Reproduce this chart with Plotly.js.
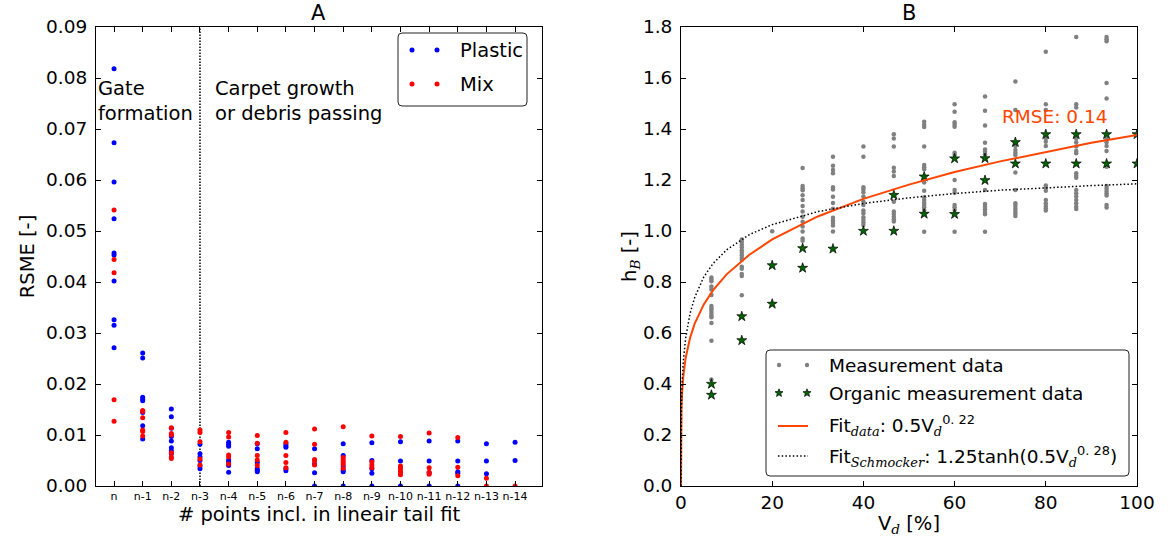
<!DOCTYPE html>
<html>
<head>
<meta charset="utf-8">
<script src="https://cdn.plot.ly/plotly-3.0.1.min.js"></script>
<style>html,body{margin:0;padding:0;background:#fff;}#chart{width:1170px;height:537px;}</style>
</head>
<body>
<div id="chart"></div>
<script>
// ---------- Panel A data ----------
const categories = ['n','n-1','n-2','n-3','n-4','n-5','n-6','n-7','n-8','n-9','n-10','n-11','n-12','n-13','n-14'];
const plasticRSME = [
  [0.0818, 0.0673, 0.0596, 0.0524, 0.0457, 0.0453, 0.0402, 0.0326, 0.0315, 0.0271],
  [0.0261, 0.0251, 0.0174, 0.0170, 0.0167, 0.0144, 0.0118, 0.0092],
  [0.0151, 0.0136, 0.0113, 0.0097, 0.0088, 0.0075, 0.0069, 0.0063],
  [0.0082, 0.0063, 0.0057, 0.0050, 0.0039, 0.0034],
  [0.0086, 0.0082, 0.0078, 0.0051, 0.0047, 0.0040, 0.0027],
  [0.0083, 0.0073, 0.0046, 0.0034, 0.0031, 0.0028],
  [0.0083, 0.0079, 0.0076, 0.0034, 0.0030],
  [0.0073, 0.0043, 0.0026, 0.0],
  [0.0083, 0.0060, 0.0039, 0.0031, 0.0028, 0.0],
  [0.0085, 0.0050, 0.0034, 0.0025, 0.0],
  [0.0087, 0.0049, 0.0],
  [0.0088, 0.0049, 0.0026, 0.0],
  [0.0088, 0.0049, 0.0028, 0.0025, 0.0],
  [0.0083, 0.0049, 0.0024],
  [0.0086, 0.0050]
];
const mixRSME = [
  [0.0541, 0.0444, 0.0418, 0.0169, 0.0127],
  [0.0148, 0.0146, 0.0134, 0.0110, 0.0107, 0.0098],
  [0.0114, 0.0103, 0.0100, 0.0065, 0.0057, 0.0054],
  [0.0110, 0.0105, 0.0087, 0.0053, 0.0041],
  [0.0105, 0.0096, 0.0061, 0.0057, 0.0043],
  [0.0099, 0.0084, 0.0060, 0.0051, 0.0040],
  [0.0105, 0.0086, 0.0060, 0.0046, 0.0036],
  [0.0112, 0.0082, 0.0052, 0.0049, 0.0041],
  [0.0116, 0.0056, 0.0051, 0.0047, 0.0043, 0.0035],
  [0.0098, 0.0047, 0.0041, 0.0036],
  [0.0097, 0.0039, 0.0035, 0.0030, 0.0026, 0.0022],
  [0.0104, 0.0036, 0.0027, 0.0023],
  [0.0095, 0.0037, 0.0020],
  [0.0015, 0.0],
  [0.0]
];
const splitCategory = 'n-3';

// ---------- Panel B data ----------
const vColumns = [6.67, 13.33, 20, 26.67, 33.33, 40, 46.67, 53.33, 60, 66.67, 73.33, 80, 86.67, 93.33, 100];
const measurementHB = [
  [0.818, 0.810, 0.803, 0.782, 0.771, 0.749, 0.706, 0.697, 0.688, 0.678, 0.669, 0.662, 0.639, 0.570, 0.418],
  [0.967, 0.957, 0.946, 0.936, 0.925, 0.915, 0.905, 0.894, 0.886, 0.860, 0.852, 0.831, 0.824, 0.748],
  [0.999],
  [1.247, 1.176, 1.168, 1.160, 1.140, 1.122, 1.098, 1.076, 1.056, 1.036, 1.018, 0.998, 0.971, 0.962],
  [1.291, 1.256, 1.239, 1.226, 1.172, 1.163, 1.134, 1.110, 1.087, 1.052, 1.041, 1.031, 1.022, 0.998],
  [1.331, 1.291, 1.172, 1.163, 1.152, 1.135, 1.115, 1.102, 1.080, 1.070, 1.054, 1.043, 1.033, 1.024],
  [1.379, 1.363, 1.331, 1.248, 1.233, 1.216, 1.115, 1.076, 1.067, 1.056, 1.046, 1.037],
  [1.428, 1.417, 1.408, 1.331, 1.259, 1.250, 1.242, 1.190, 1.158, 1.132, 1.122, 1.111, 1.102, 1.093, 1.082, 0.997],
  [1.497, 1.468, 1.426, 1.418, 1.409, 1.307, 1.298, 1.200, 1.161, 1.150, 1.102, 1.093, 1.082, 0.997],
  [1.527, 1.472, 1.414, 1.346, 1.320, 1.311, 1.301, 1.161, 1.106, 1.095, 1.085, 1.075, 1.066, 0.997],
  [1.586, 1.475, 1.333, 1.318, 1.307, 1.298, 1.229, 1.161, 1.109, 1.099, 1.088, 1.078, 1.069, 1.059],
  [1.703, 1.497, 1.475, 1.363, 1.350, 1.333, 1.178, 1.170, 1.158, 1.122, 1.109, 1.098, 1.089, 1.080],
  [1.761, 1.497, 1.484, 1.363, 1.348, 1.331, 1.314, 1.305, 1.226, 1.217, 1.209, 1.161, 1.148, 1.135, 1.122, 1.109, 1.095, 1.086],
  [1.761, 1.752, 1.744, 1.580, 1.520, 1.360, 1.348, 1.333, 1.314, 1.252, 1.176, 1.167, 1.157, 1.148, 1.139, 1.102, 1.092],
  []
];
const organicHB = [
  [0.400, 0.357], [0.665, 0.571], [0.865, 0.714], [0.932, 0.855], [0.930], [1.000],
  [1.141, 1.000], [1.213, 1.067], [1.284, 1.066], [1.285, 1.199], [1.348, 1.264],
  [1.379, 1.264], [1.379, 1.264], [1.379, 1.264], [1.379, 1.264]
];
// fit curves, tabulated (values of the fits shown in the legend)
const fitV = [0, 0.01, 0.05, 0.1, 0.25, 0.5, 1, 2, 3, 5, 7, 10, 15, 20, 30, 40, 50, 60, 70, 80, 90, 100];
const fitDataHB = [0, 0.182, 0.259, 0.301, 0.369, 0.429, 0.500, 0.582, 0.637, 0.712, 0.767, 0.830, 0.907, 0.967, 1.057, 1.126, 1.182, 1.231, 1.273, 1.311, 1.346, 1.377];
const fitSchmockerHB = [0, 0.171, 0.266, 0.321, 0.409, 0.488, 0.578, 0.678, 0.739, 0.820, 0.872, 0.926, 0.986, 1.025, 1.076, 1.108, 1.130, 1.147, 1.160, 1.170, 1.178, 1.185];
const rmseText = 'RMSE: 0.14';

// ---------- helpers ----------
const W = 1170, H = 537;
const X = px => px / W, Y = py => 1 - py / H;
function flatten(groups, keys) {
  const xs = [], ys = [];
  groups.forEach((g, i) => g.forEach(v => { xs.push(keys[i]); ys.push(v); }));
  return {xs, ys};
}
const catIdx = categories.map((c, i) => i);
const pl = flatten(plasticRSME, catIdx);
const mx = flatten(mixRSME, catIdx);
const ms = flatten(measurementHB, vColumns);
const og = flatten(organicHB, vColumns);

function roundRect(x0, y0, x1, y1, r) {
  const p = (x, y) => X(x) + ',' + Y(y);
  return 'M' + p(x0 + r, y0) + ' L' + p(x1 - r, y0) + ' Q' + p(x1, y0) + ' ' + p(x1, y0 + r) +
    ' L' + p(x1, y1 - r) + ' Q' + p(x1, y1) + ' ' + p(x1 - r, y1) +
    ' L' + p(x0 + r, y1) + ' Q' + p(x0, y1) + ' ' + p(x0, y1 - r) +
    ' L' + p(x0, y0 + r) + ' Q' + p(x0, y0) + ' ' + p(x0 + r, y0) + ' Z';
}
function starPath(cx, cy, R, r) {
  let d = '';
  for (let k = 0; k < 10; k++) {
    const a = -Math.PI / 2 + k * Math.PI / 5;
    const rad = k % 2 === 0 ? R : r;
    d += (k === 0 ? 'M' : ' L') + X(cx + rad * Math.cos(a)) + ',' + Y(cy + rad * Math.sin(a));
  }
  return d + ' Z';
}
function dot(cx, cy, rr, color) {
  return {type: 'circle', xref: 'paper', yref: 'paper', x0: X(cx - rr), x1: X(cx + rr), y0: Y(cy + rr), y1: Y(cy - rr),
    fillcolor: color, line: {width: 0}};
}
function hline(x0, x1, y, color, width, dash) {
  return {type: 'line', xref: 'paper', yref: 'paper', x0: X(x0), x1: X(x1), y0: Y(y), y1: Y(y),
    line: {color: color, width: width, dash: dash || 'solid'}};
}

const FONT = 'DejaVu Sans, Liberation Sans, sans-serif';
const SERIF_I = (t) => '<span style="font-family:\'DejaVu Serif\',serif;font-style:italic">' + t + '</span>';
const FS_TICK = 18.5, FS_A = 19.5, FS_B = 18.5, FS_TITLE = 19.5;

const traces = [
  {x: pl.xs, y: pl.ys, type: 'scatter', mode: 'markers', name: 'Plastic', xaxis: 'x', yaxis: 'y',
   marker: {color: '#0000ff', size: 5}, showlegend: false},
  {x: mx.xs, y: mx.ys, type: 'scatter', mode: 'markers', name: 'Mix', xaxis: 'x', yaxis: 'y',
   marker: {color: '#ff0000', size: 5}, showlegend: false},
  {x: ms.xs, y: ms.ys, type: 'scatter', mode: 'markers', name: 'Measurement data', xaxis: 'x2', yaxis: 'y2',
   marker: {color: '#808080', size: 4.5}, showlegend: false},
  {x: og.xs, y: og.ys, type: 'scatter', mode: 'markers', name: 'Organic measurement data', xaxis: 'x2', yaxis: 'y2',
   marker: {symbol: 'star', color: '#006400', size: 7.5, line: {color: '#000', width: 0.7}}, showlegend: false},
  {x: fitV, y: fitDataHB, type: 'scatter', mode: 'lines', name: 'Fit data', xaxis: 'x2', yaxis: 'y2',
   line: {color: '#FF4500', width: 2}, showlegend: false},
  {x: fitV, y: fitSchmockerHB, type: 'scatter', mode: 'lines', name: 'Fit Schmocker', xaxis: 'x2', yaxis: 'y2',
   line: {color: '#000', width: 1.5, dash: '1.5px,2.2px'}, showlegend: false}
];

const axisCommon = {
  showgrid: false, zeroline: false, showline: true, linecolor: '#000', linewidth: 1,
  mirror: 'ticks', ticks: 'inside', ticklen: 5, tickcolor: '#000', automargin: false,
  tickfont: {family: FONT, size: FS_TICK, color: '#000'}
};

const layout = {
  width: W, height: H,
  margin: {l: 0, r: 0, t: 0, b: 0},
  paper_bgcolor: '#fff', plot_bgcolor: '#fff',
  font: {family: FONT, color: '#000'},
  showlegend: false,
  xaxis: Object.assign({}, axisCommon, {
    domain: [X(96), X(542)], range: [-0.63, 14.94], anchor: 'y',
    tickmode: 'array', tickvals: catIdx, ticktext: categories,
    tickfont: {family: FONT, size: 11, color: '#000'},
    title: {text: '# points incl. in lineair tail fit', font: {family: FONT, size: FS_TITLE, color: '#000'}, standoff: 1}
  }),
  yaxis: Object.assign({}, axisCommon, {
    domain: [Y(486), Y(27)], range: [0, 0.09], anchor: 'x', dtick: 0.01, tickformat: '.2f',
    ticklabelstandoff: 4,
    title: {text: 'RSME [-]', font: {family: FONT, size: FS_TITLE, color: '#000'}, standoff: 6}
  }),
  xaxis2: Object.assign({}, axisCommon, {
    domain: [X(681), X(1137)], range: [0, 100], anchor: 'y2', dtick: 20,
    title: {text: 'V<sub>' + SERIF_I('d') + '</sub> [%]', font: {family: FONT, size: FS_TITLE, color: '#000'}, standoff: 4}
  }),
  yaxis2: Object.assign({}, axisCommon, {
    domain: [Y(486), Y(27)], range: [0, 1.8], anchor: 'x2', dtick: 0.2, tickformat: '.1f',
    ticklabelstandoff: 4,
    title: {text: 'h<sub>' + SERIF_I('B') + '</sub> [-]', font: {family: FONT, size: FS_TITLE, color: '#000'}, standoff: 0}
  }),
  shapes: [
    {type: 'line', xref: 'x', yref: 'y domain', x0: categories.indexOf(splitCategory), x1: categories.indexOf(splitCategory),
     y0: 0, y1: 1, layer: 'below', line: {color: '#000', width: 1.5, dash: '1.5px,1.5px'}},
    // legend A
    {type: 'path', xref: 'paper', yref: 'paper', path: roundRect(398, 33, 527, 106, 4), fillcolor: '#fff', line: {color: '#222', width: 1}},
    dot(412, 50, 2.5, '#0000ff'), dot(437, 50, 2.5, '#0000ff'),
    dot(412, 84, 2.5, '#ff0000'), dot(437, 84, 2.5, '#ff0000'),
    // legend B
    {type: 'path', xref: 'paper', yref: 'paper', path: roundRect(766, 350, 1129, 476, 4), fillcolor: '#fff', line: {color: '#222', width: 1}},
    dot(779, 365, 2.2, '#808080'), dot(807, 365, 2.2, '#808080'),
    {type: 'path', xref: 'paper', yref: 'paper', path: starPath(779, 393, 4.2, 1.8), fillcolor: '#006400', line: {color: '#000', width: 0.7}},
    {type: 'path', xref: 'paper', yref: 'paper', path: starPath(807, 393, 4.2, 1.8), fillcolor: '#006400', line: {color: '#000', width: 0.7}},
    hline(778, 808, 426, '#FF4500', 2),
    hline(778, 808, 456, '#000', 1.5, '1.5px,2.2px')
  ],
  annotations: [
    {xref: 'paper', yref: 'paper', x: X(319), y: Y(13), text: 'A', showarrow: false, xanchor: 'center', yanchor: 'middle',
     font: {family: FONT, size: 21, color: '#000'}},
    {xref: 'paper', yref: 'paper', x: X(909), y: Y(13), text: 'B', showarrow: false, xanchor: 'center', yanchor: 'middle',
     font: {family: FONT, size: 21, color: '#000'}},
    {xref: 'paper', yref: 'paper', x: X(96), y: Y(101), text: 'Gate<br>formation', showarrow: false, xanchor: 'left', yanchor: 'middle',
     align: 'left', font: {family: FONT, size: FS_A, color: '#000'}},
    {xref: 'paper', yref: 'paper', x: X(213), y: Y(101), text: 'Carpet growth<br>or debris passing', showarrow: false, xanchor: 'left', yanchor: 'middle',
     align: 'left', font: {family: FONT, size: FS_A, color: '#000'}},
    {xref: 'paper', yref: 'paper', x: X(458), y: Y(50), text: 'Plastic', showarrow: false, xanchor: 'left', yanchor: 'middle',
     font: {family: FONT, size: FS_A, color: '#000'}},
    {xref: 'paper', yref: 'paper', x: X(458), y: Y(84), text: 'Mix', showarrow: false, xanchor: 'left', yanchor: 'middle',
     font: {family: FONT, size: FS_A, color: '#000'}},
    {xref: 'paper', yref: 'paper', x: X(1000), y: Y(117), text: rmseText, showarrow: false, xanchor: 'left', yanchor: 'middle',
     font: {family: FONT, size: FS_B, color: '#FF4500'}},
    {xref: 'paper', yref: 'paper', x: X(827), y: Y(365), text: 'Measurement data', showarrow: false, xanchor: 'left', yanchor: 'middle',
     font: {family: FONT, size: FS_B, color: '#000'}},
    {xref: 'paper', yref: 'paper', x: X(827), y: Y(393), text: 'Organic measurement data', showarrow: false, xanchor: 'left', yanchor: 'middle',
     font: {family: FONT, size: FS_B, color: '#000'}},
    {xref: 'paper', yref: 'paper', x: X(827), y: Y(425), text: 'Fit<sub>' + SERIF_I('data') + '</sub>: 0.5V<sub>' + SERIF_I('d') + '</sub><sup>0. 22</sup>',
     showarrow: false, xanchor: 'left', yanchor: 'middle', font: {family: FONT, size: FS_B, color: '#000'}},
    {xref: 'paper', yref: 'paper', x: X(827), y: Y(456), text: 'Fit<sub>' + SERIF_I('Schmocker') + '</sub>: 1.25tanh(0.5V<sub>' + SERIF_I('d') + '</sub><sup>0. 28</sup>)',
     showarrow: false, xanchor: 'left', yanchor: 'middle', font: {family: FONT, size: FS_B, color: '#000'}}
  ]
};

Plotly.newPlot('chart', traces, layout, {displayModeBar: false, staticPlot: true});
</script>
</body>
</html>
